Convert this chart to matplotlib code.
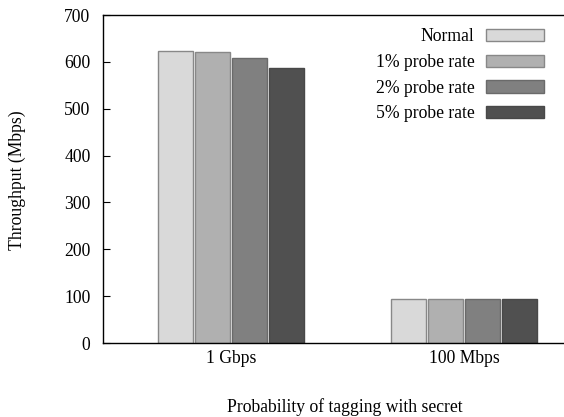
import matplotlib
matplotlib.use("Agg")
import matplotlib.pyplot as plt
import numpy as np

plt.rcParams['font.family'] = ['Liberation Serif', 'DejaVu Serif']

groups = ['1 Gbps', '100 Mbps']
series = ['Normal', '1% probe rate', '2% probe rate', '5% probe rate']
values = [
    [623, 94],   # Normal
    [621, 94],   # 1%
    [608, 94],   # 2%
    [587, 94],   # 5%
]
colors = ['#d9d9d9', '#b0b0b0', '#808080', '#505050']
edges = ['#888888', '#888888', '#6a6a6a', '#484848']
fs = 12.7

fig = plt.figure(figsize=(5.64, 4.17), dpi=100)
W, H = 564, 417
ax = fig.add_axes([103 / W, (H - 343) / H, (W - 103) / W, (343 - 15) / H])

x = np.arange(len(groups))
step = 0.159
width = 0.15
for i, s in enumerate(series):
    ax.bar(x + (i - 1.5) * step, values[i], width, color=colors[i],
           edgecolor=edges[i], linewidth=1.0, label=s)

ax.set_xlim(-0.549, 1.429)
ax.set_ylim(0, 700)
ax.set_yticks(range(0, 701, 100))
ax.set_xticks(x)
ax.set_xticklabels(groups)
ax.spines['right'].set_visible(False)
for sp in ['left', 'top', 'bottom']:
    ax.spines[sp].set_linewidth(1.0)
ax.tick_params(axis='y', direction='in', length=5, labelsize=fs, pad=9)
ax.tick_params(axis='x', length=0, labelsize=fs, pad=5)

fig.text(17 / W, (H - 180) / H, 'Throughput (Mbps)', rotation=90,
         ha='center', va='center', fontsize=fs)
fig.text(345 / W, (H - 407) / H, 'Probability of tagging with secret',
         ha='center', va='center', fontsize=fs)

leg = ax.legend(loc='upper right', bbox_to_anchor=((544 - 103) / 461, (343 - 28) / 328),
                frameon=False, markerfirst=False, fontsize=fs,
                handlelength=3.3, handleheight=0.68, labelspacing=0.5,
                handletextpad=0.65, borderaxespad=0, borderpad=0)
for t in leg.get_texts():
    t.set_ha('right')

fig.savefig('out.png', dpi=100)
